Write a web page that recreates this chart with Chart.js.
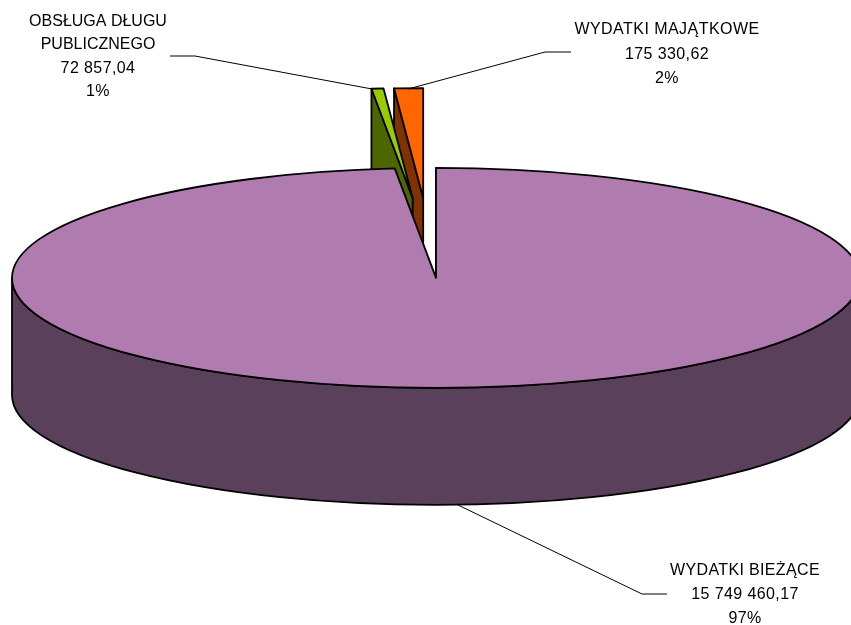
<!DOCTYPE html>
<html>
<head>
<meta charset="utf-8">
<script src="https://cdn.jsdelivr.net/npm/chart.js@4/dist/chart.umd.js"></script>
<style>
html, body { margin: 0; padding: 0; background: #fff; overflow: hidden; }
canvas { display: block; }
</style>
</head>
<body>
<canvas id="pie3d" width="851" height="625"></canvas>
<script>
var categories = [["WYDATKI BIEŻĄCE"], ["OBSŁUGA DŁUGU", "PUBLICZNEGO"], ["WYDATKI MAJĄTKOWE"]];
var values = [15749460.17, 72857.04, 175330.62];
var percentLabels = ["97%", "1%", "2%"];
var topColors = ["#B07CB0", "#99CC00", "#FF6600"];
var sideColors = ["#5A405A", "#4D6600", "#803300"];

// label placement: text centre x, first baseline y, line gap, then the leader line
var labelPos = [
    { x: 745, y: 575, gap: 24, spacing: "0.35px", leader: [[667, 594], [642, 594], [458, 505]] },
    { x: 98, y: 25.5, gap: 23.6, spacing: "0px", leader: [[170, 56], [195, 56], [372, 89]] },
    { x: 667, y: 34, gap: 24.5, spacing: "0.45px", leader: [[571, 52], [545, 52], [408, 89]] }
];
var numberSpacing = "0.4px";

var squash = 0.2594;
var depth = 117;
// the green slice sits a little further left in the picture than the explode gives
var nudgeX = [0, -3, 0];

function formatValue(v) {
    var parts = v.toFixed(2).split(".");
    return parts[0].replace(/\B(?=(\d{3})+$)/g, " ") + "," + parts[1];
}

function apexOf(arc, i) {
    var mid = (arc.startAngle + arc.endAngle) / 2;
    var off = arc.options.offset;
    return { x: arc.x + Math.cos(mid) * off + nudgeX[i], y: arc.y + Math.sin(mid) * off * squash };
}

function strokeFill(ctx, fill) {
    ctx.fillStyle = fill;
    ctx.fill();
    ctx.stroke();
}

function drawSlice(ctx, arc, i) {
    var a = apexOf(arc, i);
    var rx = arc.outerRadius, ry = rx * squash;
    var s = arc.startAngle, e = arc.endAngle;

    // cut face on the start side, the other one looks away from the viewer
    var px = a.x + Math.cos(s) * rx, py = a.y + Math.sin(s) * ry;
    ctx.beginPath();
    ctx.moveTo(a.x, a.y);
    ctx.lineTo(px, py);
    ctx.lineTo(px, py + depth);
    ctx.lineTo(a.x, a.y + depth);
    ctx.closePath();
    strokeFill(ctx, sideColors[i]);

    // outer wall, only the part that faces the viewer
    var from = Math.max(s, 0), to = Math.min(e, Math.PI);
    if (to > from) {
        ctx.beginPath();
        ctx.ellipse(a.x, a.y, rx, ry, 0, from, to);
        ctx.ellipse(a.x, a.y + depth, rx, ry, 0, to, from, true);
        ctx.closePath();
        strokeFill(ctx, sideColors[i]);
    }

    // top face
    ctx.beginPath();
    ctx.moveTo(a.x, a.y);
    ctx.ellipse(a.x, a.y, rx, ry, 0, s, e);
    ctx.closePath();
    strokeFill(ctx, topColors[i]);
}

var pie3dPlugin = {
    id: "pie3d",
    beforeDatasetsDraw: function (chart) {
        var ctx = chart.ctx;
        var arcs = chart.getDatasetMeta(0).data;
        ctx.save();
        ctx.strokeStyle = "#000";
        ctx.lineWidth = 1.8;
        ctx.lineJoin = "round";
        // back slices first, the big one covers them
        [2, 1, 0].forEach(function (i) { drawSlice(ctx, arcs[i], i); });
        ctx.restore();
        return false;
    },
    afterDraw: function (chart) {
        var ctx = chart.ctx;
        ctx.save();
        ctx.strokeStyle = "#000";
        ctx.lineWidth = 1;
        ctx.fillStyle = "#000";
        ctx.font = "16px 'Liberation Sans'";
        ctx.textAlign = "center";
        categories.forEach(function (cat, i) {
            var p = labelPos[i];
            ctx.beginPath();
            p.leader.forEach(function (pt, k) {
                if (k === 0) ctx.moveTo(pt[0], pt[1]); else ctx.lineTo(pt[0], pt[1]);
            });
            ctx.stroke();
            cat.forEach(function (line, k) {
                ctx.letterSpacing = p.spacing;
                ctx.fillText(line, p.x, p.y + k * p.gap);
            });
            ctx.letterSpacing = numberSpacing;
            ctx.fillText(formatValue(values[i]), p.x, p.y + cat.length * p.gap);
            ctx.fillText(percentLabels[i], p.x, p.y + (cat.length + 1) * p.gap);
        });
        ctx.restore();
    }
};

var ctx1 = document.getElementById("pie3d").getContext("2d");
new Chart(ctx1, {
    type: "pie",
    data: {
        labels: categories.map(function (c) { return c.join(" "); }),
        datasets: [{
            data: values,
            backgroundColor: topColors,
            offset: 154
        }]
    },
    options: {
        responsive: false,
        animation: false,
        radius: 424,
        layout: { padding: { left: 6, bottom: 149 } },
        plugins: { legend: { display: false }, tooltip: { enabled: false } }
    },
    plugins: [pie3dPlugin]
});
</script>
</body>
</html>
